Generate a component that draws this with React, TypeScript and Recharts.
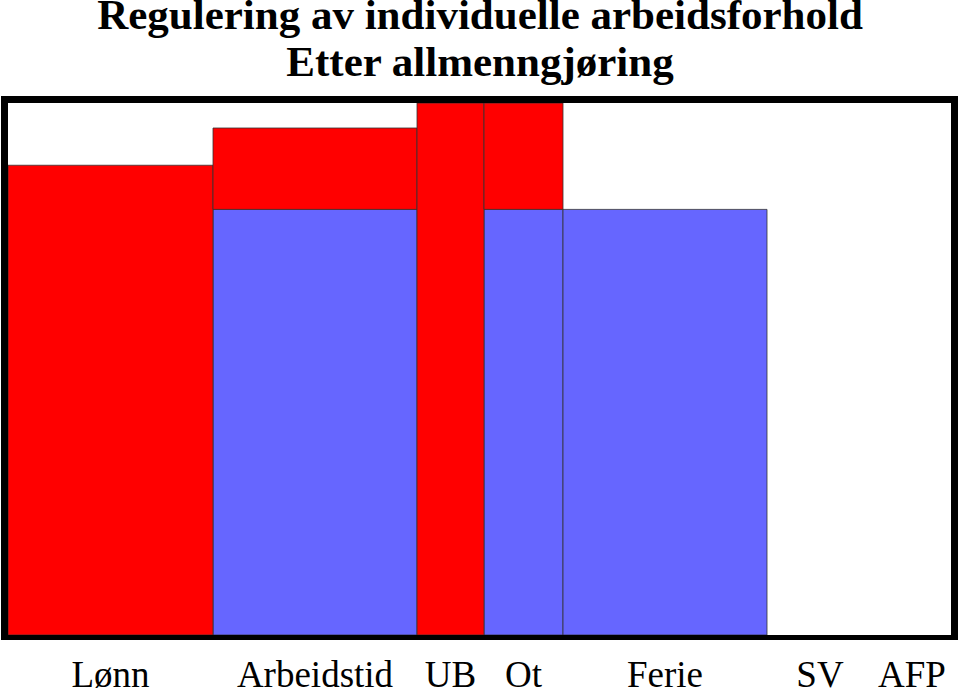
import { ComposedChart, Line, ReferenceArea, XAxis, YAxis } from "recharts";

const categories = ["Lønn", "Arbeidstid", "UB", "Ot", "Ferie", "SV", "AFP"];
const widths = [205, 204, 67, 79, 204, 106, 78];
const blueValues = [0, 80, 0, 80, 80, 0, 0];
const redValues = [88.3, 15.3, 100, 20, 0, 0, 0];

const RED = "#FF0000";
const BLUE = "#6666FF";
const EDGE = "#333333";

// cumulative start / end of every column in width units
const starts: number[] = [];
widths.reduce((acc, w) => {
  starts.push(acc);
  return acc + w;
}, 0);
const total = widths.reduce((a, b) => a + b, 0);

const rows = categories.map((name, i) => ({
  name,
  start: starts[i],
  end: starts[i] + widths[i],
  mid: starts[i] + widths[i] / 2,
  blue: blueValues[i],
  red: redValues[i],
  top: blueValues[i] + redValues[i],
}));

const serif = '"Liberation Serif", "Times New Roman", serif';

export default function App() {
  return (
    <div style={{ position: "absolute", left: 0, top: 0, width: 960, height: 691, background: "#fff" }}>
      <div
        style={{
          position: "absolute",
          left: 0,
          width: 960,
          top: -9,
          textAlign: "center",
          fontFamily: serif,
          fontWeight: "bold",
          fontSize: 43,
          lineHeight: "47px",
        }}
      >
        <div>Regulering av individuelle arbeidsforhold</div>
        <div>Etter allmenngjøring</div>
      </div>

      <div style={{ position: "absolute", left: 0, top: 0 }}>
        <ComposedChart
          width={960}
          height={691}
          data={rows}
          margin={{ top: 103, right: 9, bottom: 0, left: 8 }}
        >
          <XAxis
            type="number"
            dataKey="mid"
            domain={[0, total]}
            ticks={rows.map((r) => r.mid)}
            interval={0}
            tickFormatter={(v: number) => rows.find((r) => r.mid === v)?.name ?? ""}
            axisLine={false}
            tickLine={false}
            tickSize={0}
            tickMargin={26}
            height={56}
            tick={{ fill: "#000", fontSize: 37, fontFamily: serif }}
          />
          <YAxis hide type="number" domain={[0, 100]} allowDataOverflow />
          {/* invisible series so the axes are registered */}
          <Line
            dataKey="top"
            stroke="none"
            dot={false}
            activeDot={false}
            legendType="none"
            isAnimationActive={false}
          />
          {rows
            .filter((r) => r.blue > 0)
            .map((r) => (
              <ReferenceArea
                key={"b-" + r.name}
                x1={r.start}
                x2={r.end}
                y1={0}
                y2={r.blue}
                fill={BLUE}
                fillOpacity={1}
                stroke={EDGE}
                strokeWidth={0.8}
                ifOverflow="visible"
              />
            ))}
          {rows
            .filter((r) => r.red > 0)
            .map((r) => (
              <ReferenceArea
                key={"r-" + r.name}
                x1={r.start}
                x2={r.end}
                y1={r.blue}
                y2={r.top}
                fill={RED}
                fillOpacity={1}
                stroke={EDGE}
                strokeWidth={0.8}
                ifOverflow="visible"
              />
            ))}
        </ComposedChart>
      </div>

      {/* thick plot frame */}
      <div
        style={{
          position: "absolute",
          left: 1,
          top: 96,
          width: 957,
          height: 544,
          boxSizing: "border-box",
          borderStyle: "solid",
          borderColor: "#000",
          borderWidth: "7px 7px 5px 7px",
          pointerEvents: "none",
        }}
      />
    </div>
  );
}
